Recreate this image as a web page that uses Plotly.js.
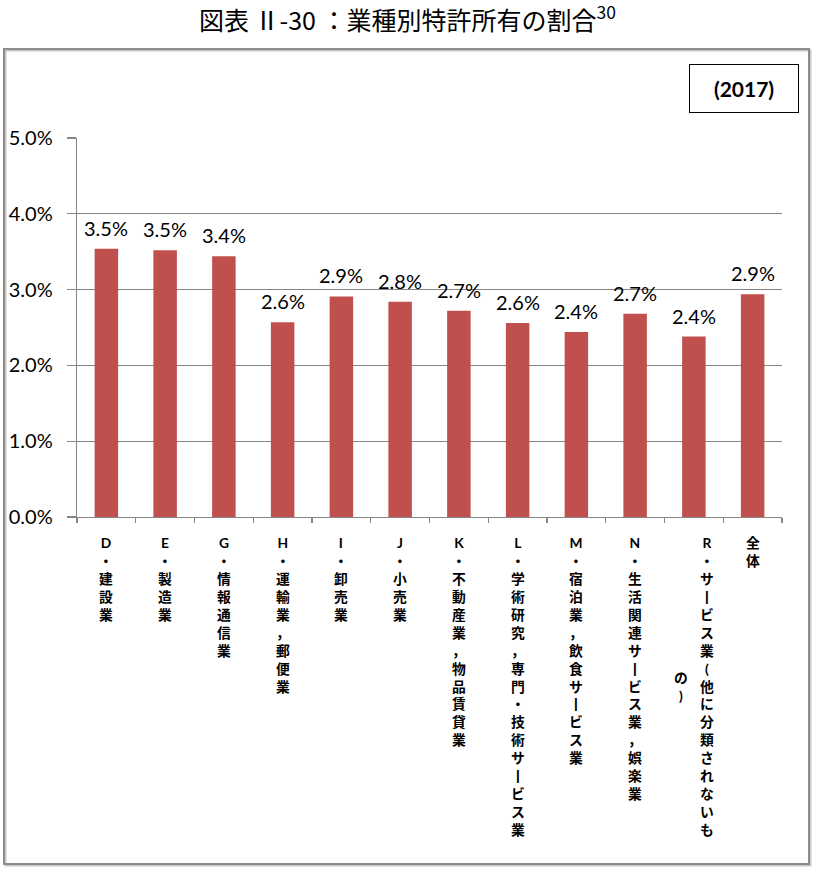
<!DOCTYPE html>
<html>
<head>
<meta charset="utf-8">
<script src="https://cdn.plot.ly/plotly-3.0.1.min.js"></script>
<style>
  html, body { margin: 0; padding: 0; background: #fff; }
  #chart { width: 815px; height: 869px; }
</style>
</head>
<body>
<div id="chart"></div>
<script>
// ---- data ----
const categories = [
  'D・建設業', 'E・製造業', 'G・情報通信業', 'H・運輸業，郵便業', 'I・卸売業', 'J・小売業',
  'K・不動産業，物品賃貸業', 'L・学術研究，専門・技術サービス業', 'M・宿泊業，飲食サービス業',
  'N・生活関連サービス業，娯楽業', 'R・サービス業(他に分類されないもの)', '全体'
];
const shares = [0.0354, 0.0352, 0.0344, 0.0257, 0.0291, 0.0284, 0.0272, 0.0256, 0.0244, 0.0268, 0.0238, 0.0294];
const shareLabels = ['3.5%', '3.5%', '3.4%', '2.6%', '2.9%', '2.8%', '2.7%', '2.6%', '2.4%', '2.7%', '2.4%', '2.9%'];
// vertical tick label columns (right column first)
const tickColumns = [
  ['D・建設業'], ['E・製造業'], ['G・情報通信業'], ['H・運輸業，郵便業'], ['I・卸売業'], ['J・小売業'],
  ['K・不動産業，物品賃貸業'], ['L・学術研究，専門・技術サービス業'], ['M・宿泊業，飲食サービス業'],
  ['N・生活関連サービス業，娯楽業'], ['R・サービス業(他に分類されないも', 'の)'], ['全体']
];
const yTickVals = [0, 0.01, 0.02, 0.03, 0.04, 0.05];
const titleText = '図表 Ⅱ-30 ：業種別特許所有の割合<sup>30</sup>';
const yearLabel = '<b>(2017)</b>';

// ---- layout helpers ----
const W = 815, H = 869;
const M = {l: 77, r: 33, t: 138, b: 352};
const PW = W - M.l - M.r, PH = H - M.t - M.b;
const px = x => (x - M.l) / PW;
const py = y => (H - M.b - y) / PH;

const labelFont = {family: 'Lato, "Noto Sans CJK JP", sans-serif', size: 13.8, color: '#000'};
const lineH = 13.8 * 1.3;

const annotations = [];
tickColumns.forEach((cols, i) => {
  const n0 = Array.from(cols[0]).length;
  cols.forEach((col, j) => {
    // long vowel mark drawn upright, as in vertical writing
    const chars = Array.from(col.replace(/\u30FC/g, '\u4E28'));
    const shift = cols.length > 1 ? (j === 0 ? 13 : -13) : 0;
    const yshift = j === 0 ? 0 : -((n0 - chars.length) / 2) * lineH;
    annotations.push({
      x: categories[i], xref: 'x', y: py(532), yref: 'paper',
      xanchor: 'center', yanchor: 'top', xshift: shift, yshift: yshift,
      text: '<b>' + chars.join('<br>') + '</b>', showarrow: false, align: 'center',
      font: labelFont
    });
  });
});
// value labels above bars
categories.forEach((c, i) => {
  annotations.push({
    x: c, xref: 'x', y: shares[i], yref: 'y', xanchor: 'center', yanchor: 'middle', yshift: 21,
    text: shareLabels[i], showarrow: false,
    font: {family: 'Lato, sans-serif', size: 20, color: '#000'}
  });
});
annotations.push({
  x: px(744), y: py(88.5), xref: 'paper', yref: 'paper', xanchor: 'center', yanchor: 'middle',
  text: yearLabel, showarrow: false, width: 108, height: 47,
  bordercolor: '#000', borderwidth: 1, borderpad: 0, bgcolor: '#fff',
  font: {family: 'Lato, sans-serif', size: 21, color: '#000'}
});

const shapes = [
  {type: 'rect', xref: 'paper', yref: 'paper', x0: px(5.5), x1: px(810.5), y0: py(865.5), y1: py(50.5),
   line: {color: '#c8c8c8', width: 2}, layer: 'below'},
  {type: 'rect', xref: 'paper', yref: 'paper', x0: px(4), x1: px(809), y0: py(864), y1: py(49),
   line: {color: '#8c8c8c', width: 2}, layer: 'below'}
];

const trace = {
  type: 'bar', x: categories, y: shares,
  marker: {color: '#C0504D', line: {width: 0}},
  hoverinfo: 'skip'
};

const layout = {
  width: W, height: H, margin: M, paper_bgcolor: '#fff', plot_bgcolor: '#fff',
  showlegend: false, bargap: 0.6,
  title: {text: titleText, x: 0.5, xref: 'container', xanchor: 'center', y: 1 - 21 / H, yref: 'container', yanchor: 'middle',
          font: {family: '"Noto Sans CJK JP", sans-serif', size: 25, color: '#000'}},
  xaxis: {type: 'category', showticklabels: false, ticks: 'outside', tickson: 'boundaries', ticklen: 5,
          tickcolor: '#868686', tickwidth: 1.3, showline: true, linecolor: '#868686', linewidth: 1.3,
          showgrid: false, zeroline: false, fixedrange: true},
  yaxis: {range: [0, 0.05], tickvals: yTickVals, tickformat: '.1%', ticks: 'outside', ticklen: 9,
          tickcolor: '#868686', tickwidth: 1.3, showline: true, linecolor: '#868686', linewidth: 1.3,
          showgrid: true, gridcolor: '#868686', gridwidth: 1.3, zeroline: false, ticklabelstandoff: 10,
          tickfont: {family: 'Lato, sans-serif', size: 20, color: '#000'}, fixedrange: true},
  annotations: annotations, shapes: shapes
};

Plotly.newPlot('chart', [trace], layout, {displayModeBar: false, staticPlot: true});
</script>
</body>
</html>
